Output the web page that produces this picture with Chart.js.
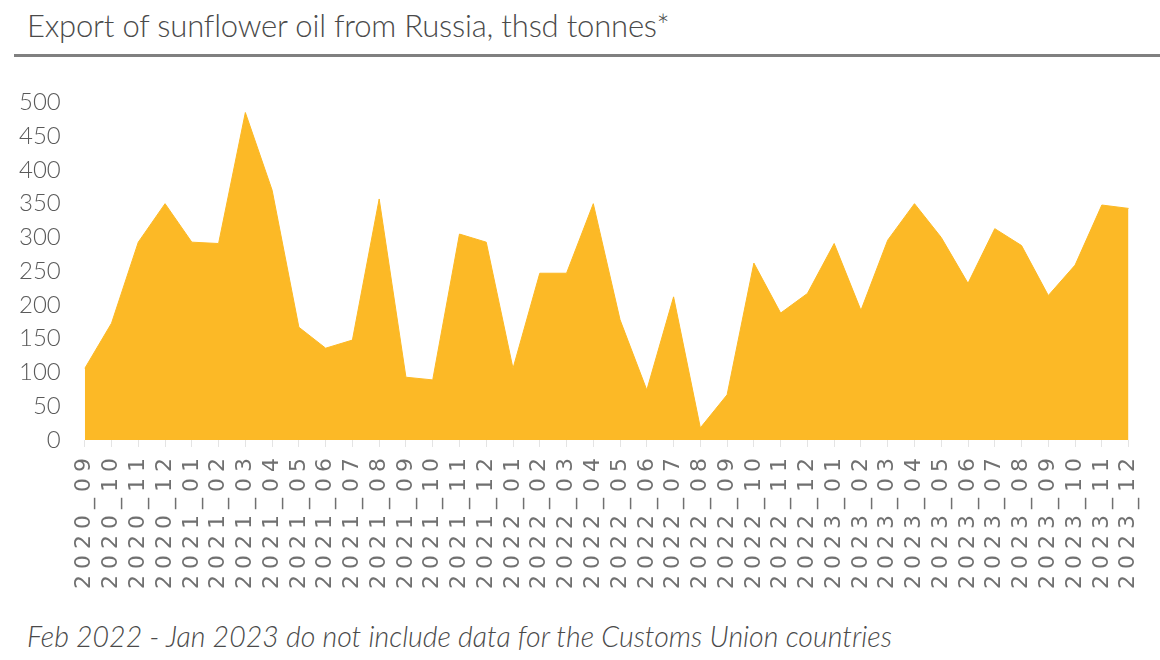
<!DOCTYPE html>
<html>
<head>
<meta charset="utf-8">
<script src="https://cdn.jsdelivr.net/npm/chart.js@4"></script>
<style>
  body { margin: 0; background: #fff; width: 1160px; height: 660px; overflow: hidden; position: relative; font-family: Lato, "Open Sans", sans-serif; }
  #title { position: absolute; left: 27px; top: 6px; font-size: 31px; color: #4a4a4a; font-weight: 300; letter-spacing: -0.2px; }
  #rule { position: absolute; left: 14px; right: 0; top: 54px; height: 3px; background: #808080; }
  #box { position: absolute; left: 0; top: 72px; width: 1160px; height: 538px; }
  #note { position: absolute; left: 27px; top: 619px; font-size: 28.5px; font-style: italic; color: #4a4a4a; font-weight: 300; }
</style>
</head>
<body>
<div id="title">Export of sunflower oil from Russia, thsd tonnes*</div>
<div id="rule"></div>
<div id="box"><canvas id="chartExport"></canvas></div>
<div id="note">Feb 2022 - Jan 2023 do not include data for the Customs Union countries</div>
<script>
// bulan (label sumbu x)
const months = [
  '2020_09', '2020_10', '2020_11', '2020_12',
  '2021_01', '2021_02', '2021_03', '2021_04', '2021_05', '2021_06',
  '2021_07', '2021_08', '2021_09', '2021_10', '2021_11', '2021_12',
  '2022_01', '2022_02', '2022_03', '2022_04', '2022_05', '2022_06',
  '2022_07', '2022_08', '2022_09', '2022_10', '2022_11', '2022_12',
  '2023_01', '2023_02', '2023_03', '2023_04', '2023_05', '2023_06',
  '2023_07', '2023_08', '2023_09', '2023_10', '2023_11', '2023_12'
];

// ekspor, ribu ton
const exportVolume = [
  106, 173, 293, 350,
  293, 291, 485, 370, 167, 136,
  148, 357, 93, 89, 305, 293,
  106, 247, 247, 350, 178, 74,
  212, 18, 67, 262, 188, 217,
  291, 192, 296, 350, 300, 232,
  313, 288, 214, 259, 348, 343
];

const yTicks = [0, 50, 100, 150, 200, 250, 300, 350, 400, 450, 500];

// label bulan di gambar asli lebih renggang
const spacedLabels = {
  id: 'spacedLabels',
  afterUpdate(chart) {
    const xs = chart.scales.x;
    if (xs._spaced) return;
    const orig = xs.drawLabels.bind(xs);
    xs.drawLabels = (area) => {
      chart.ctx.save();
      chart.ctx.letterSpacing = '6px';
      orig(area);
      chart.ctx.restore();
    };
    xs._spaced = true;
  }
};

const ctx = document.getElementById('chartExport').getContext('2d');
new Chart(ctx, {
  type: 'line',
  data: {
    labels: months,
    datasets: [{
      data: exportVolume,
      fill: 'origin',
      backgroundColor: '#fcb926',
      borderColor: '#fcb926',
      borderWidth: 1,
      pointRadius: 0,
      tension: 0
    }]
  },
  plugins: [spacedLabels],
  options: {
    responsive: true,
    maintainAspectRatio: false,
    animation: false,
    layout: { padding: { left: 3, right: 12, top: 0, bottom: 0 } },
    plugins: { legend: { display: false }, tooltip: { enabled: false } },
    scales: {
      x: {
        offset: false,
        afterFit: s => { s.height = 170; },
        grid: { display: true, drawOnChartArea: false, tickLength: 7, color: '#e4e4e4' },
        border: { display: false },
        ticks: {
          autoSkip: false,
          minRotation: 90,
          maxRotation: 90,
          color: '#707070',
          font: { family: 'DejaVu Sans', size: 22, weight: 'normal' },
          padding: 5
        }
      },
      y: {
        min: 0,
        max: 500,
        afterBuildTicks: axis => { axis.ticks = yTicks.map(v => ({ value: v })); },
        grid: { display: false },
        border: { display: false },
        ticks: {
          color: '#5a5a5a',
          font: { family: 'Lato', size: 24, weight: 300 },
          padding: 16
        }
      }
    }
  }
});
</script>
</body>
</html>
